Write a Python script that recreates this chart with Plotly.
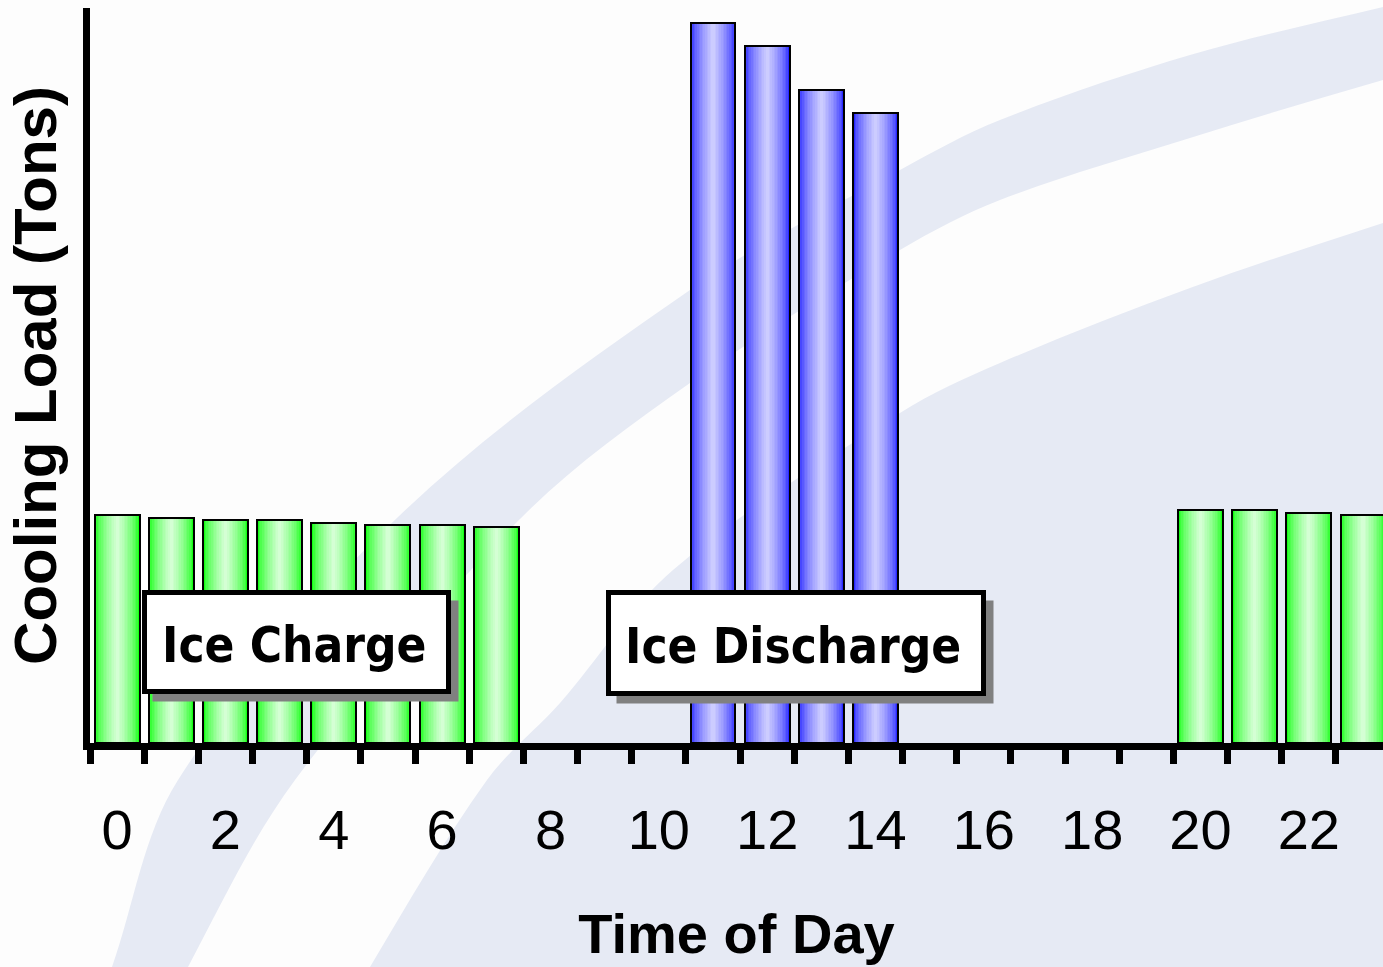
import math
import plotly.graph_objects as go

# ---------------------------------------------------------------- data
hours = list(range(24))
tick_hours = list(range(0, 24, 2))
tick_labels = [str(h) for h in tick_hours]

# hourly cooling load (tons) and what the ice plant is doing in that hour
load = [228, 225, 223, 223, 220, 218, 218, 216,
        0, 0, 0,
        720, 697, 653, 630,
        0, 0, 0, 0, 0,
        233, 233, 230, 228]
mode = (["charge"] * 8 + ["idle"] * 3 + ["discharge"] * 4
        + ["idle"] * 5 + ["charge"] * 4)

charge_load = [v if m == "charge" else None for v, m in zip(load, mode)]
discharge_load = [v if m == "discharge" else None for v, m in zip(load, mode)]

# ---------------------------------------------------------------- geometry
W, H = 1383, 967
M_L, M_R, M_T, M_B = 90, 0, 8, 224
PLOT_W = W - M_L - M_R
PLOT_H = H - M_T - M_B
SLOT_PX = 54.17                      # pixels per hour
X0 = -0.5005
X1 = X0 + PLOT_W / SLOT_PX
Y_MAX = PLOT_H                       # 1 ton per pixel

BAR_W = 0.83
N_LAYERS = 14

TXT = "Liberation Sans, Arial, sans-serif"
BOX_FONT = "DejaVu Sans Condensed, DejaVu Sans, Verdana, sans-serif"
BAND = "#e6eaf4"


def to_paper(p):
    x, y = p
    return ((x - M_L) / PLOT_W, (H - M_B - y) / PLOT_H)


def curve(points, start=True):
    """Chord-length Catmull-Rom spline through pixel points -> SVG path in paper units."""
    n = len(points)
    d = [math.dist(points[i], points[i + 1]) for i in range(n - 1)]

    def tangent(i):
        if i == 0:
            return [(points[1][k] - points[0][k]) / d[0] for k in (0, 1)]
        if i == n - 1:
            return [(points[-1][k] - points[-2][k]) / d[-1] for k in (0, 1)]
        return [(points[i + 1][k] - points[i - 1][k]) / (d[i - 1] + d[i]) for k in (0, 1)]

    fmt = lambda p: "%.5f,%.5f" % to_paper(p)
    out = ("M" if start else " L") + fmt(points[0])
    for i in range(n - 1):
        m1, m2 = tangent(i), tangent(i + 1)
        c1 = (points[i][0] + m1[0] * d[i] / 3, points[i][1] + m1[1] * d[i] / 3)
        c2 = (points[i + 1][0] - m2[0] * d[i] / 3, points[i + 1][1] - m2[1] * d[i] / 3)
        out += " C" + fmt(c1) + " " + fmt(c2) + " " + fmt(points[i + 1])
    return out


def shade(edge, centre, t):
    return "rgb(%d,%d,%d)" % tuple(round(e + (c - e) * t) for e, c in zip(edge, centre))


fig = go.Figure()


def add_cylinder_bars(values, edge, centre, name):
    # nested, progressively narrower bars give the rounded, cylinder-like shading
    for i in range(N_LAYERS):
        frac = i / N_LAYERS
        t = (i / (N_LAYERS - 1)) ** 0.65
        fig.add_bar(x=hours, y=values, width=BAR_W * (1 - frac),
                    marker=dict(color=shade(edge, centre, t), line_width=0),
                    showlegend=False, hoverinfo="skip")
    fig.add_bar(x=hours, y=values, width=BAR_W, name=name,
                marker=dict(color="rgba(0,0,0,0)", line=dict(color="black", width=2)),
                showlegend=False)


add_cylinder_bars(charge_load, (20, 255, 20), (212, 255, 212), "Ice Charge")
add_cylinder_bars(discharge_load, (40, 40, 255), (204, 204, 255), "Ice Discharge")

# ---------------------------------------------------------------- background swooshes
band1_upper = [(100, 1000), (112, 967), (178, 780), (398, 517), (690, 290),
               (900, 170), (1000, 120), (1190, 55), (1383, 7), (1470, -12)]
band1_lower = [(1470, 58), (1383, 80), (1190, 138), (1000, 200), (900, 250),
               (690, 383), (522, 517), (295, 780), (188, 967), (178, 1000)]
band2_edge = [(355, 1000), (370, 967), (487, 780), (560, 703), (673, 570),
              (900, 413), (1000, 363), (1190, 288), (1383, 223), (1470, 197)]

shapes = [
    dict(type="path", xref="paper", yref="paper", layer="below",
         path=curve(band1_upper) + curve(band1_lower, start=False) + " Z",
         fillcolor=BAND, line_width=0),
    dict(type="path", xref="paper", yref="paper", layer="below",
         path=curve(band2_edge) + " L" + "%.5f,%.5f" % to_paper((1470, 1000)) + " Z",
         fillcolor=BAND, line_width=0),
]


def px_x(px):
    return X0 + (px - M_L) / SLOT_PX


def px_y(py):
    return (H - M_B) - py


# label boxes with drop shadow: (left, top, right, bottom) in pixels, text
boxes = [((144.5, 592.5, 448.5, 691.5), "Ice Charge"),
         ((608.5, 592.5, 983.5, 693.5), "Ice Discharge")]
annotations = []
for (l, t, r, b), label in boxes:
    shapes.append(dict(type="rect", xref="x", yref="y", layer="above",
                       x0=px_x(l + 8), x1=px_x(r + 10), y0=px_y(t + 8), y1=px_y(b + 10),
                       fillcolor="#808080", line_width=0))
    shapes.append(dict(type="rect", xref="x", yref="y", layer="above",
                       x0=px_x(l), x1=px_x(r), y0=px_y(t), y1=px_y(b),
                       fillcolor="white", line=dict(color="black", width=5)))
    annotations.append(dict(x=px_x((l + r) / 2 - 3), y=px_y((t + b) / 2 + 3),
                            xref="x", yref="y", text=label, showarrow=False,
                            xanchor="center", yanchor="middle",
                            font=dict(family=BOX_FONT, size=49, color="black",
                                      weight="bold")))

fig.update_layout(
    width=W, height=H,
    margin=dict(l=M_L, r=M_R, t=M_T, b=M_B, pad=0),
    paper_bgcolor="#fdfdfd", plot_bgcolor="rgba(0,0,0,0)",
    barmode="overlay", bargap=0,
    shapes=shapes, annotations=annotations,
    showlegend=False,
)

fig.update_xaxes(
    range=[X0, X1], showgrid=False, zeroline=False,
    showline=True, linecolor="black", linewidth=7,
    tickmode="array", tickvals=tick_hours, ticktext=tick_labels,
    ticks="", ticklabelstandoff=32,
    tickfont=dict(family=TXT, size=56, color="black"),
    minor=dict(tickmode="array", tickvals=[h - 0.5 for h in range(25)],
               ticks="outside", ticklen=14, tickwidth=7, tickcolor="black",
               showgrid=False),
    title=dict(text="Time of Day", standoff=56,
               font=dict(family=TXT, size=56, color="black", weight="bold")),
    automargin=False,
)
fig.update_yaxes(
    range=[0, Y_MAX], showgrid=False, zeroline=False,
    showline=True, linecolor="black", linewidth=7,
    showticklabels=False, ticks="",
    title=dict(text="Cooling Load (Tons)", standoff=10,
               font=dict(family=TXT, size=60, color="black", weight="bold")),
    automargin=False,
)

fig.write_html("out.html")
